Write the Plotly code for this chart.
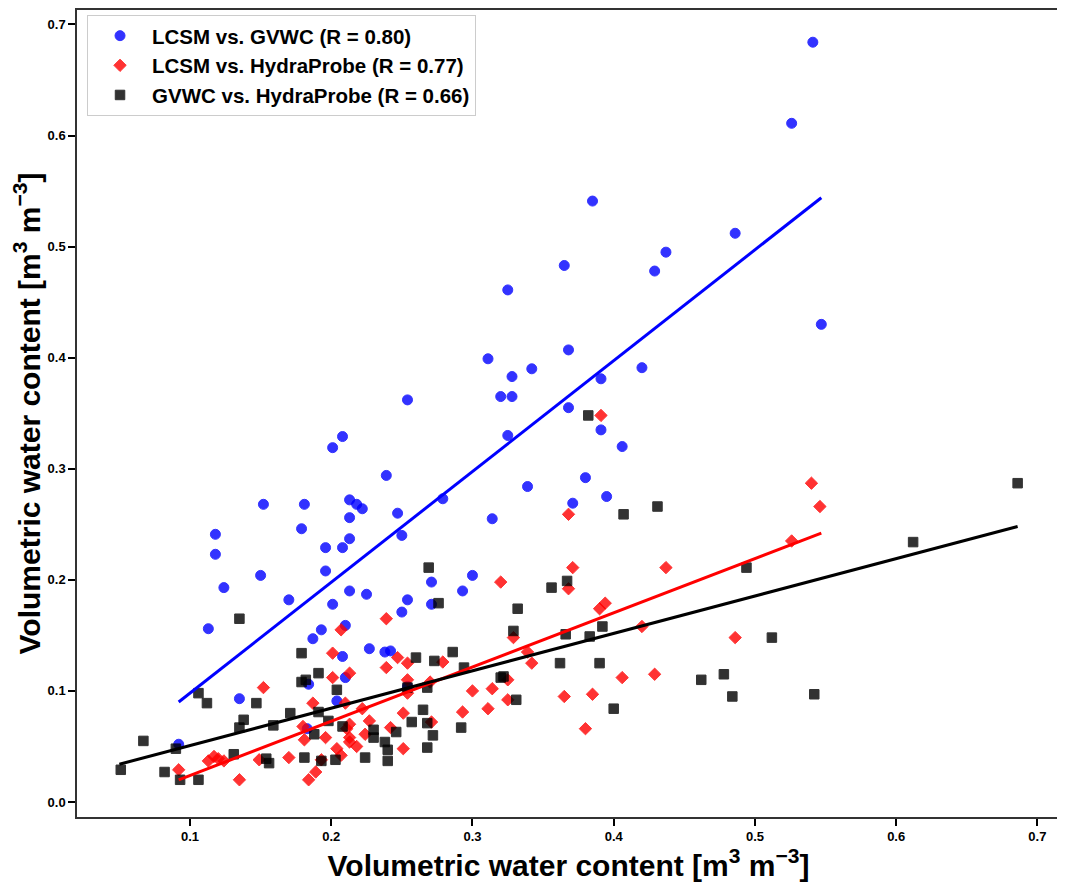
import plotly.graph_objects as go

# LCSM vs. GVWC (blue circles)
blue_x = [0.541, 0.526, 0.385, 0.365, 0.486, 0.437, 0.429, 0.547, 0.368, 0.420,
          0.391, 0.368, 0.391, 0.406, 0.380, 0.339, 0.371, 0.395, 0.325, 0.311,
          0.342, 0.328, 0.320, 0.328, 0.254, 0.325, 0.208, 0.201, 0.239, 0.152,
          0.181, 0.213, 0.218, 0.222, 0.279, 0.247, 0.213, 0.314, 0.118, 0.118,
          0.179, 0.250, 0.213, 0.196, 0.208, 0.196, 0.150, 0.124, 0.271, 0.300,
          0.213, 0.225, 0.293, 0.170, 0.113, 0.135, 0.092, 0.201, 0.254, 0.250,
          0.271, 0.210, 0.193, 0.187, 0.227, 0.238, 0.242, 0.208, 0.210, 0.184,
          0.204, 0.254, 0.183]
blue_y = [0.684, 0.611, 0.541, 0.483, 0.512, 0.495, 0.478, 0.430, 0.407, 0.391,
          0.381, 0.355, 0.335, 0.320, 0.292, 0.284, 0.269, 0.275, 0.461, 0.399,
          0.390, 0.383, 0.365, 0.365, 0.362, 0.330, 0.329, 0.319, 0.294, 0.268,
          0.268, 0.272, 0.268, 0.264, 0.273, 0.260, 0.256, 0.255, 0.241, 0.223,
          0.246, 0.240, 0.237, 0.229, 0.229, 0.208, 0.204, 0.193, 0.198, 0.204,
          0.190, 0.187, 0.190, 0.182, 0.156, 0.093, 0.052, 0.178, 0.182, 0.171,
          0.178, 0.159, 0.155, 0.147, 0.138, 0.135, 0.136, 0.131, 0.112, 0.106,
          0.091, 0.104, 0.066]

# LCSM vs. HydraProbe (red diamonds)
red_x = [0.540, 0.546, 0.526, 0.391, 0.368, 0.371, 0.437, 0.368, 0.394, 0.390,
         0.420, 0.486, 0.329, 0.339, 0.342, 0.406, 0.429, 0.365, 0.385, 0.380,
         0.320, 0.239, 0.207, 0.201, 0.247, 0.254, 0.279, 0.239, 0.213, 0.201,
         0.254, 0.270, 0.254, 0.300, 0.314, 0.325, 0.187, 0.210, 0.222, 0.251,
         0.293, 0.311, 0.325, 0.227, 0.213, 0.242, 0.271, 0.180, 0.181, 0.196,
         0.211, 0.213, 0.224, 0.213, 0.218, 0.204, 0.207, 0.251, 0.193, 0.189,
         0.184, 0.152, 0.092, 0.113, 0.117, 0.120, 0.124, 0.149, 0.170, 0.135]
red_y = [0.287, 0.266, 0.235, 0.348, 0.259, 0.211, 0.211, 0.192, 0.179, 0.174,
         0.158, 0.148, 0.148, 0.135, 0.125, 0.112, 0.115, 0.095, 0.097, 0.066,
         0.198, 0.165, 0.155, 0.134, 0.130, 0.125, 0.126, 0.121, 0.116, 0.112,
         0.110, 0.108, 0.098, 0.100, 0.102, 0.110, 0.089, 0.089, 0.084, 0.080,
         0.081, 0.084, 0.092, 0.073, 0.070, 0.067, 0.072, 0.068, 0.056, 0.058,
         0.066, 0.058, 0.061, 0.054, 0.050, 0.048, 0.042, 0.048, 0.038, 0.027,
         0.020, 0.103, 0.029, 0.037, 0.041, 0.039, 0.037, 0.038, 0.040, 0.020]

# GVWC vs. HydraProbe (black squares)
black_x = [0.686, 0.612, 0.494, 0.512, 0.542, 0.407, 0.431, 0.356, 0.367, 0.332,
           0.329, 0.366, 0.383, 0.392, 0.362, 0.390, 0.462, 0.478, 0.484, 0.331,
           0.400, 0.382, 0.269, 0.276, 0.179, 0.191, 0.179, 0.182, 0.204, 0.260,
           0.273, 0.286, 0.294, 0.320, 0.322, 0.254, 0.268, 0.265, 0.257, 0.268,
           0.272, 0.292, 0.268, 0.191, 0.198, 0.208, 0.188, 0.230, 0.230, 0.246,
           0.238, 0.240, 0.240, 0.224, 0.203, 0.193, 0.181, 0.135, 0.106, 0.112,
           0.147, 0.138, 0.135, 0.159, 0.171, 0.067, 0.090, 0.131, 0.154, 0.156,
           0.051, 0.082, 0.093, 0.106]
black_y = [0.287, 0.234, 0.211, 0.148, 0.097, 0.259, 0.266, 0.193, 0.199, 0.174,
           0.154, 0.151, 0.149, 0.158, 0.125, 0.125, 0.110, 0.115, 0.095, 0.092,
           0.084, 0.348, 0.211, 0.179, 0.134, 0.116, 0.108, 0.110, 0.101, 0.130,
           0.127, 0.135, 0.121, 0.112, 0.113, 0.103, 0.103, 0.083, 0.072, 0.071,
           0.060, 0.067, 0.049, 0.081, 0.073, 0.068, 0.061, 0.065, 0.058, 0.063,
           0.054, 0.047, 0.037, 0.040, 0.038, 0.037, 0.040, 0.165, 0.098, 0.089,
           0.089, 0.074, 0.067, 0.069, 0.080, 0.055, 0.048, 0.043, 0.039, 0.035,
           0.029, 0.027, 0.020, 0.020]

# fitted lines (end points)
blue_fit_x = [0.092, 0.547]
blue_fit_y = [0.090, 0.544]
red_fit_x = [0.092, 0.547]
red_fit_y = [0.020, 0.242]
black_fit_x = [0.050, 0.686]
black_fit_y = [0.034, 0.248]

FONT = "Liberation Sans, Arial, sans-serif"

fig = go.Figure()

fig.add_trace(go.Scatter(
    x=blue_x, y=blue_y, mode="markers", name="<b>LCSM vs. GVWC (R = 0.80)</b>",
    marker=dict(symbol="circle", size=10, color="#0000ff", opacity=0.8,
                line=dict(width=1, color="#0000ff"))))
fig.add_trace(go.Scatter(
    x=red_x, y=red_y, mode="markers", name="<b>LCSM vs. HydraProbe (R = 0.77)</b>",
    marker=dict(symbol="diamond", size=9.5, color="#ff0000", opacity=0.8,
                line=dict(width=1, color="#ff0000"))))
fig.add_trace(go.Scatter(
    x=black_x, y=black_y, mode="markers", name="<b>GVWC vs. HydraProbe (R = 0.66)</b>",
    marker=dict(symbol="square", size=9.5, color="#000000", opacity=0.8,
                line=dict(width=1, color="#000000"))))

for fx, fy, col in [(blue_fit_x, blue_fit_y, "#0000ff"),
                    (red_fit_x, red_fit_y, "#ff0000"),
                    (black_fit_x, black_fit_y, "#000000")]:
    fig.add_trace(go.Scatter(x=fx, y=fy, mode="lines", showlegend=False,
                             line=dict(color=col, width=3)))

axis_title = "<b>Volumetric water content [m<sup>3</sup> m<sup>\u22123</sup>]</b>"
xt = [0.1, 0.2, 0.3, 0.4, 0.5, 0.6, 0.7]
yt = [0.0, 0.1, 0.2, 0.3, 0.4, 0.5, 0.6, 0.7]

# page body adds an 8px margin, so the figure is a bit smaller than the window
fig.update_layout(
    width=1057, height=879,
    margin=dict(l=69, r=5, t=0, b=70),
    paper_bgcolor="white", plot_bgcolor="white",
    font=dict(family=FONT, color="black"),
    legend=dict(x=0.0102, y=0.994, xanchor="left", yanchor="top", itemwidth=54,
                bgcolor="rgba(255,255,255,0.9)", bordercolor="#cccccc", borderwidth=1,
                font=dict(size=20.5, family=FONT, color="black")),
)
fig.update_xaxes(
    range=[0.02, 0.716], tickvals=xt,
    ticktext=[f"<b>{v:.1f}</b>" for v in xt],
    ticks="outside", ticklen=7, tickwidth=2, tickcolor="black",
    tickfont=dict(size=13, family=FONT),
    showline=True, linecolor="#333333", linewidth=1.5, mirror=True,
    showgrid=False, zeroline=False,
    title=dict(text=axis_title, font=dict(size=30, family=FONT), standoff=6))
fig.update_yaxes(
    range=[-0.0135, 0.713], tickvals=yt,
    ticktext=[f"<b>{v:.1f}</b>" for v in yt],
    ticks="outside", ticklen=7, tickwidth=2, tickcolor="black",
    tickfont=dict(size=13, family=FONT),
    showline=True, linecolor="#333333", linewidth=1.5, mirror=True,
    showgrid=False, zeroline=False,
    title=dict(text=axis_title, font=dict(size=30, family=FONT), standoff=9))

fig.write_html("out.html")
